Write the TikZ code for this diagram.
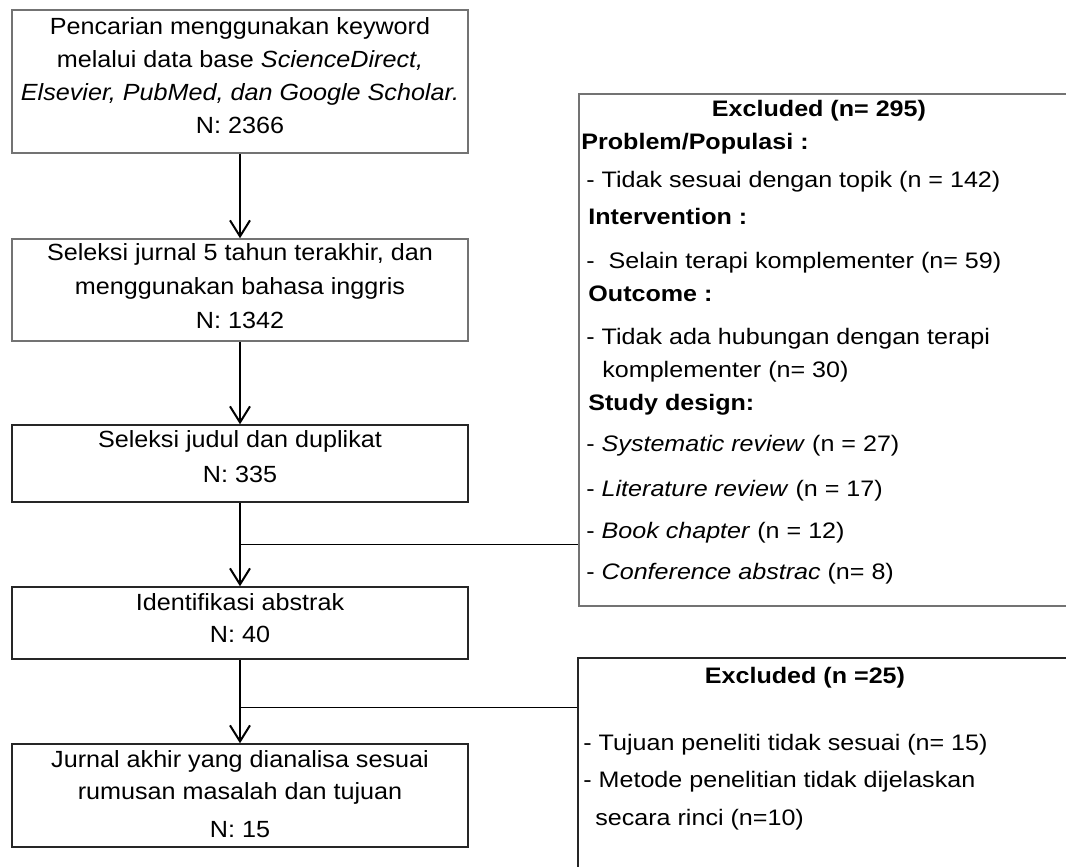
\documentclass[tikz,border=0pt]{standalone}
\usepackage{fontspec}
\setmainfont{Liberation Sans}[FakeStretch=1.075]
\newfontfamily\exclfont{Liberation Sans}[FakeStretch=1.12]
\usetikzlibrary{arrows.meta,calc}

\begin{document}
\begin{tikzpicture}[
  x=0.5pt, y=-0.5pt,
  font=\fontsize{11.7}{16.4}\selectfont,
  flowbox/.style={rectangle, draw=black!85, line width=0.75pt, inner sep=0pt,
                  minimum width=228pt, align=center},
  exclbox/.style={rectangle, draw=black!85, line width=0.75pt, inner sep=0pt,
                  anchor=north west, minimum width=250pt},
  head/.style={anchor=base, inner sep=0pt, font=\exclfont\fontsize{11.2}{13}\selectfont\bfseries},
  item/.style={anchor=base west, inner sep=0pt, font=\exclfont\fontsize{11.2}{13}\selectfont},
  label/.style={item, font=\exclfont\fontsize{11.2}{13}\selectfont\bfseries},
  arrow/.style={-{Straight Barb[length=8pt,width=10pt]}, line width=1pt},
  branch/.style={line width=0.75pt}
]
\clip (0,0) rectangle (1066,867);

% Left column: the selection steps
\node[flowbox, draw=black!55, minimum height=71.5pt, text depth=6pt] (search) at (240,81.5)
  {Pencarian menggunakan keyword\\ melalui data base \textit{ScienceDirect,}\\
   \textit{Elsevier, PubMed, dan Google Scholar.}\\ N: 2366};
\node[flowbox, draw=black!55, minimum height=51pt, text depth=4pt] (lang) at (240,290)
  {Seleksi jurnal 5 tahun terakhir, dan\\[0.4pt] menggunakan bahasa inggris\\[0.4pt] N: 1342};
\node[flowbox, minimum height=38.5pt, text depth=6.5pt] (dup) at (240,463.5)
  {Seleksi judul dan duplikat\\[1.1pt] N: 335};
\node[flowbox, minimum height=36pt, text depth=5pt] (abs) at (240,623)
  {Identifikasi abstrak\\ N: 40};
\node[flowbox, minimum height=51.5pt, text depth=1pt] (final) at (240,795.5)
  {Jurnal akhir yang dianalisa sesuai\\[-0.4pt] rumusan masalah dan tujuan\\[2.6pt] N: 15};

% Right column: excluded boxes (they run past the page edge)
\node[exclbox, draw=black!55, minimum height=256pt] (excl1) at (578,93) {};
\node[exclbox, minimum height=125pt] (excl2) at (577,657) {};

% Texts of the first excluded box
\node[head] (ex1head) at (819,116) {Excluded (n= 295)};
\node[label] (ex1pop) at (581,149.5) {Problem/Populasi :};
\node[item] (ex1topik) at (586,187.5) {- Tidak sesuai dengan topik (n = 142)};
\node[label] (ex1int) at (588,224) {Intervention :};
\node[item] (ex1selain) at (586,268) {-\ \ Selain terapi komplementer (n= 59)};
\node[label] (ex1out) at (588,301.5) {Outcome :};
\node[item] (ex1hub) at (586,344.6) {- Tidak ada hubungan dengan terapi};
\node[item] (ex1hub2) at (602,377.4) {komplementer (n= 30)};
\node[label] (ex1study) at (588,410) {Study design:};
\node[item] (ex1sys) at (586,451.7) {- \textit{Systematic review} (n = 27)};
\node[item] (ex1lit) at (586,496.6) {- \textit{Literature review} (n = 17)};
\node[item] (ex1book) at (586,538) {- \textit{Book chapter} (n = 12)};
\node[item] (ex1conf) at (586,579.5) {- \textit{Conference abstrac} (n= 8)};

% Texts of the second excluded box
\node[head] (ex2head) at (805,683) {Excluded (n =25)};
\node[item] (ex2tujuan) at (583,750) {- Tujuan peneliti tidak sesuai (n= 15)};
\node[item] (ex2metode) at (583,787) {- Metode penelitian tidak dijelaskan};
\node[item] (ex2metode2) at (595,825) {secara rinci (n=10)};

% Junctions on the arrows
\coordinate (j1) at ($(dup.south)!0.5!(abs.north)$);
\coordinate (j2) at ($(abs.south)!0.57!(final.north)$);

% Arrows - main chain
\draw[arrow] (search) -- (lang);
\draw[arrow] (lang) -- (dup);
\draw[arrow] (dup) -- (abs);
\draw[arrow] (abs) -- (final);

% Branches to the excluded boxes
\draw[branch] (j1) -- (j1 -| excl1.west);
\draw[branch] (j2) -- (j2 -| excl2.west);

\end{tikzpicture}
\end{document}
